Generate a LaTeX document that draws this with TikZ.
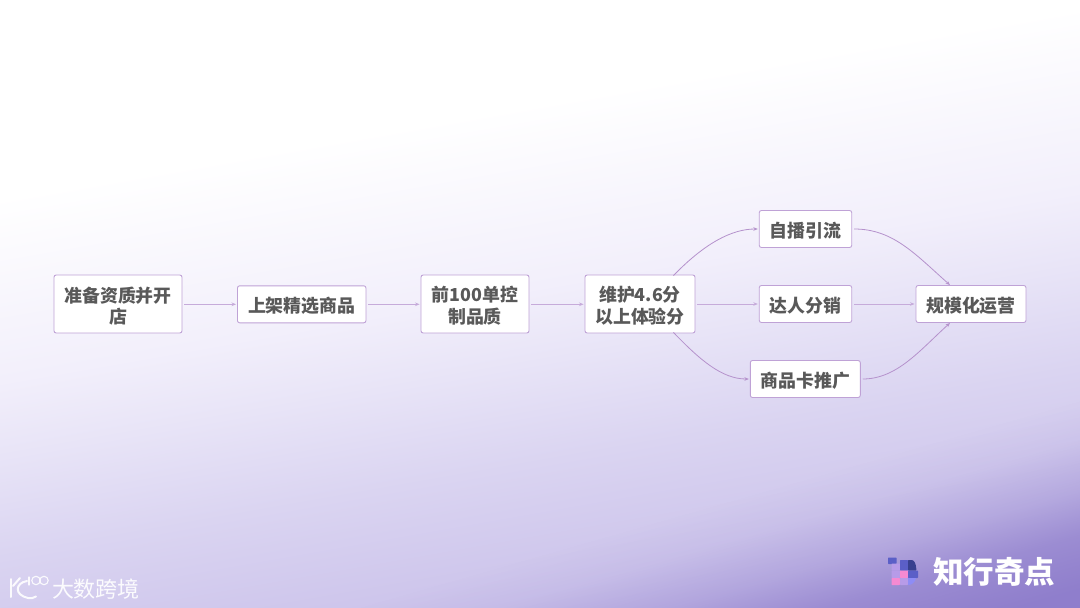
\documentclass[tikz,border=0pt]{standalone}
\usepackage{fontspec}
\usetikzlibrary{arrows.meta,fadings}
\newfontfamily\cjk{Noto Sans CJK SC}
\definecolor{boxedge}{HTML}{BFA2D6}
\definecolor{linkc}{HTML}{B592CC}
\definecolor{linkl}{HTML}{C6ABDA}
\definecolor{txt}{HTML}{595959}
\definecolor{bgD}{HTML}{8F7ECC}
\definecolor{bgE}{HTML}{BAAEE2}
\definecolor{bgB}{HTML}{CAC1EA}
\definecolor{bgA}{HTML}{DAD4F1}
\definecolor{bgF}{HTML}{E8E4F7}
\definecolor{bgW}{HTML}{F2EFFB}
\definecolor{logoBlue}{HTML}{5B5FC7}
\definecolor{logoLilac}{HTML}{B79BE8}
\definecolor{logoNavy}{HTML}{38408F}
\definecolor{logoPink}{HTML}{F58AD2}
\definecolor{logoPeri}{HTML}{8E8CF5}
\pgfdeclareverticalshading{bgshade}{100bp}{
  color(0bp)=(bgE);
  color(41.25bp)=(bgE);
  color(43.75bp)=(bgB);
  color(46.73bp)=(bgA);
  color(48.81bp)=(bgF);
  color(50.375bp)=(bgW);
  color(54.17bp)=(white);
  color(100bp)=(white)}
\pgfdeclareverticalshading{cornershade}{100bp}{
  rgb(0bp)=(1,1,1);
  rgb(41.17bp)=(1,1,1);
  rgb(42.3bp)=(.76,.76,.76);
  rgb(43.19bp)=(.38,.38,.38);
  rgb(44.2bp)=(.09,.09,.09);
  rgb(45bp)=(0,0,0);
  rgb(100bp)=(0,0,0)}
\pgfdeclarefading{cornerfade}{\pgfuseshading{cornershade}}
\newcommand{\lowr}{\rule{0pt}{19pt}}
\tikzset{
  stepbox/.style={draw=boxedge,line width=0.9pt,fill=white,rounded corners=2.2pt,inner sep=0pt,align=center,
    text=txt,font=\cjk\bfseries\fontsize{17.9}{21.3}\selectfont},
  link/.style={draw=linkc,line width=0.8pt,-{Stealth[length=4.5pt,width=3.6pt]}},
  linkst/.style={link,draw=linkl,shorten <=2pt,shorten >=1pt},
  cell/.style={rounded corners=0.6pt}
}
\begin{document}
\begin{tikzpicture}[x=1pt,y=-1pt]
\useasboundingbox (0,0) rectangle (1080,608);
\begin{scope}
\clip (0,0) rectangle (1080,608);
\shade[shading=bgshade,shading angle=10] (-660,-896) rectangle (1740,1504);
\fill[bgD,path fading=cornerfade,fading angle=16] (-660,-896) rectangle (1740,1504);
\end{scope}

\node[stepbox,minimum width=128pt,minimum height=58pt] (a) at (118,304) {\lowr 准备资质并开\\店};
\node[stepbox,minimum width=128.5pt,minimum height=37pt] (b) at (301.7,304.3) {\lowr 上架精选商品};
\node[stepbox,minimum width=108pt,minimum height=58pt] (c) at (475,304) {\lowr 前100单控\\制品质};
\node[stepbox,minimum width=110pt,minimum height=58pt] (d) at (640,304) {\lowr 维护4.6分\\以上体验分};
\node[stepbox,minimum width=92.5pt,minimum height=37pt] (e) at (805.5,229) {\lowr 自播引流};
\node[stepbox,minimum width=92.5pt,minimum height=37pt] (f) at (805.5,304) {\lowr 达人分销};
\node[stepbox,minimum width=110pt,minimum height=37pt] (g) at (805.3,379) {\lowr 商品卡推广};
\node[stepbox,minimum width=110pt,minimum height=37pt] (h) at (971,304) {\lowr 规模化运营};

\draw[linkst] (a.east|-b.west) -- (b.west);
\draw[linkst] (b.east) -- (c.west|-b.east);
\draw[linkst] (c.east|-b.east) -- (d.west|-b.east);
\draw[linkst] (d.east|-f.west) -- (f.west);
\draw[linkst] (f.east) -- (h.west);
\draw[link] ([xshift=-22pt,yshift=-1pt]d.north east) .. controls (705,243) and (732,229) .. ([xshift=-1pt]e.west);
\draw[link] ([xshift=-22pt,yshift=1pt]d.south east) .. controls (700,360) and (722,379) .. ([xshift=-1pt]g.west);
\draw[link] ([xshift=2pt]e.east) .. controls (893,229) and (915,254) .. ([xshift=-21pt]h.north);
\draw[link] ([xshift=2pt]g.east) .. controls (897,379) and (920,350) .. ([xshift=-21pt]h.south);

% left logo
\begin{scope}[draw=white,line width=2pt,line cap=round,opacity=.9]
\draw (11,579) -- (11,597);
\draw (27,581) .. controls (15,583) and (14,595) .. (28,598) .. controls (31,598.5) and (34,598) .. (36,596.5);
\draw (13,586) -- (20,578);
\draw[line width=1.1pt] (29,577) -- (29,585);
\draw[line width=1.1pt] (36,580.5) circle (4.2pt);
\draw[line width=1.1pt] (44,580.5) circle (4.2pt);
\end{scope}
\node[inner sep=0pt,text=white,text opacity=.92,font=\cjk\fontsize{22}{22}\selectfont] (kd) at (96,589) {大数跨境};

% right logo
\fill[cell,fill=logoBlue] (888,557.5) rectangle (896.5,564);
\fill[cell,fill=logoLilac] (891.5,563.5) rectangle (900,570.5);
\fill[cell,fill=logoBlue] (900,560) rectangle (908,570.5);
\fill[fill=logoNavy,rounded corners=0.6pt] (908,560) -- (911,560) .. controls (914,560) and (916,563) .. (916.5,570.5) -- (908,570.5) -- cycle;
\fill[cell,fill=logoLilac] (891.5,570.5) rectangle (900,578);
\fill[cell,fill=logoPink] (900,570.5) rectangle (908,578);
\fill[cell,fill=logoBlue] (908,570.5) rectangle (918,578);
\fill[cell,fill=logoPink] (891.5,578) rectangle (900,585);
\fill[cell,fill=logoLilac] (900,578) rectangle (908,585);
\fill[fill=logoPeri,rounded corners=0.6pt] (908,578) -- (916,578) .. controls (915,582) and (912,585) .. (908,585) -- cycle;
\node[inner sep=0pt,text=white,font=\cjk\bfseries\fontsize{30.5}{30.5}\selectfont] (zx) at (994,572) {知行奇点};
\end{tikzpicture}
\end{document}
